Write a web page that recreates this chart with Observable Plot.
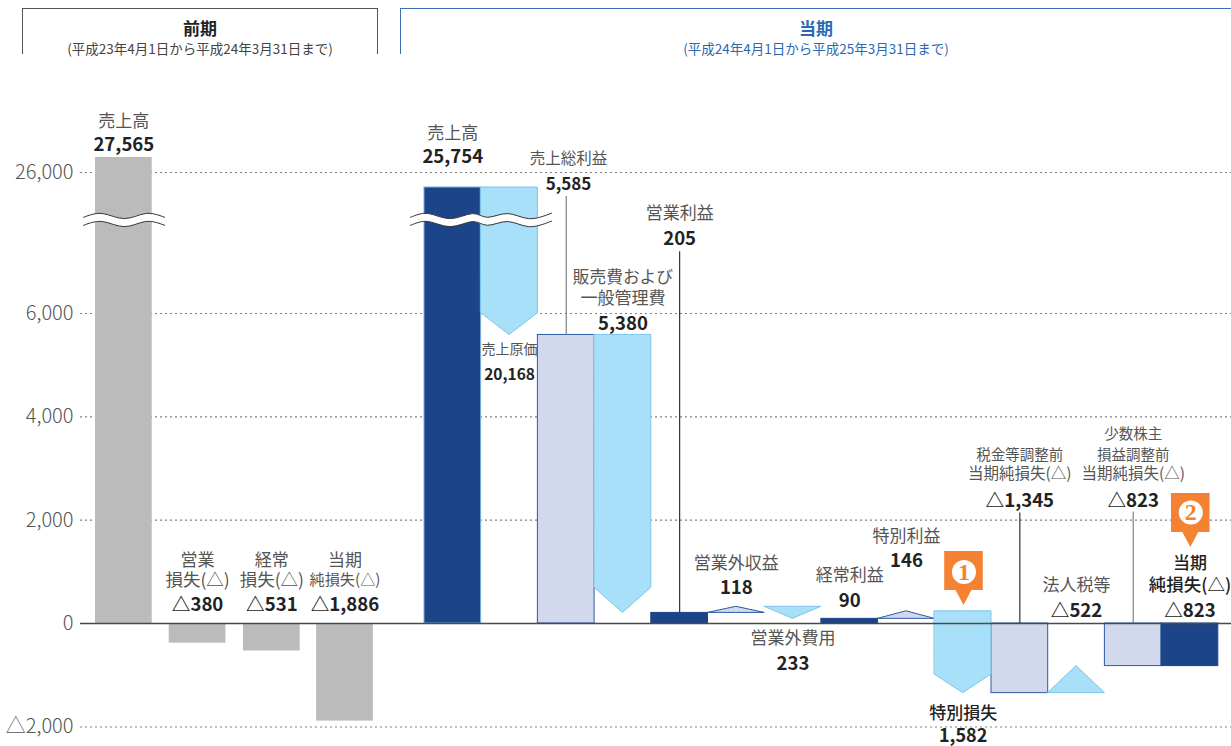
<!DOCTYPE html>
<html lang="ja">
<head>
<meta charset="utf-8">
<script src="https://cdn.jsdelivr.net/npm/d3@7"></script>
<script src="https://cdn.jsdelivr.net/npm/@observablehq/plot@0.6"></script>
<style>
  html, body { margin: 0; padding: 0; background: #fff; overflow: hidden; }
  #header { position: relative; height: 54px; width: 1231px; font-family: "Noto Sans CJK JP", sans-serif; }
  .period { position: absolute; top: 8px; height: 46px; box-sizing: border-box; border: 1px solid; border-bottom: none; text-align: center; }
  .period b { display: block; font-size: 17px; line-height: 20px; margin-top: 9px; }
  .period span { display: block; font-size: 13.5px; line-height: 14px; margin-top: 3px; white-space: nowrap; }
  #prev { left: 22px; width: 356px; border-color: #555; color: #222; }
  #prev span { color: #444; }
  #curr { left: 400px; width: 831px; border-color: #3c6db5; border-right: none; color: #2a69b2; }
  #chart svg { display: block; background: transparent; }
</style>
</head>
<body>
<div id="header">
  <div class="period" id="prev"><b>前期</b><span>(平成23年4月1日から平成24年3月31日まで)</span></div>
  <div class="period" id="curr"><b>当期</b><span>(平成24年4月1日から平成25年3月31日まで)</span></div>
</div>
<div id="chart"></div>
<script>
// ---------- data ----------
const yTicks = [-2000, 0, 2000, 4000, 6000, 26000];
const gridTicks = [-2000, 2000, 4000, 6000, 26000];

const priorPositions = [0, 1.3, 2.61, 3.9];
const priorValues = [27565, -380, -531, -1886];

const barSlots = [0, 2, 4, 7, 10, 12, 13];
const barFrom = [0, 0, 0, 0, 0, 0, 0];
const barTo = [25754, 5585, 205, 90, -1345, -823, -823];
const barKinds = ["total", "sub", "solid", "solid", "sub", "sub", "solid"];

const stepSlots = [1, 3, 5, 6, 8, 9, 11];
const stepFrom = [25754, 5585, 205, 323, 90, 236, -1345];
const stepTo = [5585, 205, 323, 90, 236, -1346, -823];
const stepShoulder = [6050, 690, 205, 323, 90, -985, -1345];
const stepKinds = ["down", "down", "up", "down", "up", "down", "down"];

const leaderSlots = [2.5, 4.5, 10.5, 12.5];
const leaderFrom = [5585, 205, 0, 0];
const leaderTo = [24340, 15690, 2140, 2160];

const wavePriorX = [-0.21, 0.125, 0.51, 0.88, 1.22];
const wavePriorY = [20456, 21040, 20250, 21040, 20456];
const waveCurrX = [5.556, 5.873, 6.261, 6.649, 6.914, 7.266, 7.637, 8.042];
const waveCurrY = [20456, 21040, 20250, 21040, 20456, 21040, 20250, 21100];

// ---------- layout ----------
const OFFSET = 5.802;                // first slot of the current period on the x axis
const C = { grey: "#bbbbbb", navy: "#1b4489", pale: "#d3d9ec", sky: "#a8dff9", skyLine: "#7cc5ea", line: "#2d5aa5", orange: "#f58233" };
const FONT = '"Noto Sans CJK JP", "Noto Sans", sans-serif';
const x0 = s => OFFSET + s;

const priorRows = priorPositions.map((p, i) => ({ x1: p, x2: p + 1, y1: 0, y2: priorValues[i] }));
const barRows = barSlots.map((s, i) => {
  const k = barKinds[i];
  return {
    x1: x0(s), x2: x0(s + 1), y1: barFrom[i], y2: barTo[i],
    fill: k === "sub" ? C.pale : C.navy,
    stroke: k === "total" ? "#7fb5e0" : k === "sub" ? C.line : C.navy
  };
});
const stepRows = stepSlots.flatMap((s, i) => {
  const up = stepKinds[i] === "up";
  return [[s, stepShoulder[i]], [s + 0.5, stepTo[i]], [s + 1, stepShoulder[i]]].map(([x, y2]) => ({
    id: i, x: x0(x), y1: stepFrom[i], y2,
    fill: up ? C.pale : C.sky,
    stroke: up ? C.line : C.skyLine
  }));
});

function callout(slot, top, bottom, tip) {
  const m = x0(slot + 0.515), half = 0.34, b = 0.14;
  return [[m - half, bottom], [m - b, bottom], [m, tip], [m + b, bottom], [m + half, bottom]]
    .map(([x, y2]) => ({ id: slot, x, y1: top, y2 }));
}
const calloutRows = [...callout(9, 1394, 639, 348), ...callout(13, 2516, 1762, 1471)];

// text blocks: slot centre, anchor value, lines with pixel offsets
const soft = { fill: "#555", fontSize: 17 };
const hard = { fill: "#222", fontSize: 18.6, fontWeight: 700 };
function label(x, anchor, rows, nameStyle = soft, valueStyle = hard) {
  return rows.map(([text, dy, isValue, size]) =>
    Plot.text([text], {
      x: () => x, y: () => anchor, text: d => d, dy, fontFamily: FONT,
      ...(isValue ? valueStyle : nameStyle),
      ...(size ? { fontSize: size } : {})
    })
  );
}
const pc = i => priorPositions[i] + 0.5;
const cc = s => x0(s + 0.5);
const strong = { fill: "#222", fontSize: 17, fontWeight: 500 };

const labels = [
  label(pc(0), 27565, [["売上高", -36], ["27,565", -12, true]]),
  label(pc(1), 0, [["営業", -62.5], ["損失(△)", -43.5, false, 17.5], ["△380", -18.5, true]]),
  label(pc(2), 0, [["経常", -62.5], ["損失(△)", -43.5, false, 17.5], ["△531", -18.5, true]]),
  label(pc(3), 0, [["当期", -62.5], ["純損失(△)", -43.5, false, 15.2], ["△1,886", -18.5, true]]),
  label(cc(0), 25754, [["売上高", -54], ["25,754", -30, true]]),
  label(cc(1), 5585, [["売上原価", 14.5], ["20,168", 40.5, true]], { fill: "#555", fontSize: 14 },
    { fill: "#222", fontSize: 15.5, fontWeight: 700 }),
  label(cc(2) + 0.04, 24340, [["売上総利益", -37, false, 15.5], ["5,585", -12, true, 17]]),
  label(cc(3), 5585, [["販売費および", -57.5, false, 16.7], ["一般管理費", -36.5], ["5,380", -10.5, true]]),
  label(cc(4), 15690, [["営業利益", -38], ["205", -13, true]]),
  label(cc(5), 323, [["営業外収益", -42.8], ["118", -18.8, true]]),
  label(cc(6), 90, [["営業外費用", 20], ["233", 45, true]]),
  label(cc(7), 90, [["経常利益", -43], ["90", -18, true]]),
  label(cc(8), 236, [["特別利益", -75], ["146", -50, true]]),
  label(cc(9), -1346, [["特別損失", 20], ["1,582", 43, true, 18]], strong),
  label(cc(10), 2140, [["税金等調整前", -58, false, 14.5], ["当期純損失(△)", -39, false, 15.5], ["△1,345", -12, true]]),
  label(cc(11), 0, [["法人税等", -37.5], ["△522", -12.5, true]]),
  label(cc(12), 2160, [["少数株主", -78, false, 14.5], ["損益調整前", -57, false, 14.5], ["当期純損失(△)", -38, false, 15.5], ["△823", -11, true]]),
  label(cc(13), 0, [["当期", -59.5], ["純損失(△)", -38.5, false, 17.5], ["△823", -12.5, true]], strong)
].flat();

function wave(xs, ys) {
  const d = xs.map((x, i) => ({ x, y: ys[i] }));
  const o = { x: "x", y: "y", curve: "natural" };
  return [
    Plot.line(d, { ...o, stroke: "#fff", strokeWidth: 8 }),
    Plot.line(d, { ...o, stroke: "#333", strokeWidth: 1, dy: -4 }),
    Plot.line(d, { ...o, stroke: "#333", strokeWidth: 1, dy: 4 })
  ];
}

const leaderColors = ["#808080", "#333", "#333", "#808080"];
const marker = [[cc(9) + 0.015, 997, "1"], [cc(13) + 0.015, 2149, "2"]];

const plot = Plot.plot({
  width: 1231,
  height: 692,
  marginLeft: 80,
  marginRight: 0,
  marginTop: 0,
  marginBottom: 0,
  style: { fontFamily: FONT, background: "transparent", overflow: "visible" },
  color: { type: "identity" },
  x: { type: "linear", domain: [-0.2646, 20.035], axis: null },
  y: {
    type: "linear",
    domain: [-2000, 0, 6000, 25754, 26000, 27565],
    range: [672.5, 569, 259, 133, 118, 103],
    axis: null
  },
  marks: [
    Plot.ruleY(gridTicks, { stroke: "#808080", strokeWidth: 1.1, strokeDasharray: "2,3" }),
    Plot.rect(priorRows, { x1: "x1", x2: "x2", y1: "y1", y2: "y2", fill: C.grey }),
    Plot.rect(barRows, { x1: "x1", x2: "x2", y1: "y1", y2: "y2", fill: "fill", stroke: "stroke" }),
    Plot.area(stepRows, { x1: "x", y1: "y1", y2: "y2", z: "id", fill: "fill", stroke: "stroke" }),
    Plot.ruleX(leaderSlots.map((s, i) => ({ x: x0(s), y1: leaderFrom[i], y2: leaderTo[i], c: leaderColors[i] })),
      { x: "x", y1: "y1", y2: "y2", stroke: "c", strokeWidth: 1.2 }),
    Plot.ruleY([0], { stroke: "#4a4a4a", strokeWidth: 1.3 }),
    ...wave(wavePriorX, wavePriorY),
    ...wave(waveCurrX, waveCurrY),
    Plot.area(calloutRows, { x1: "x", y1: "y1", y2: "y2", z: "id", fill: C.orange }),
    Plot.dot(marker, { x: "0", y: "1", r: 12, fill: "#fff" }),
    Plot.text(marker, { x: "0", y: "1", text: "2", fill: C.orange, fontSize: 24, fontWeight: 700, fontFamily: '"Liberation Serif", serif' }),
    ...labels,
    Plot.axisY({
      ticks: yTicks,
      anchor: "left",
      label: null,
      tickSize: 0,
      tickPadding: 7,
      fontSize: 20,
      fontWeight: 300,
      fill: "#555",
      tickFormat: d => (d < 0 ? "△" : "") + d3.format(",")(Math.abs(d))
    })
  ]
});
document.getElementById("chart").appendChild(plot);
</script>
</body>
</html>
